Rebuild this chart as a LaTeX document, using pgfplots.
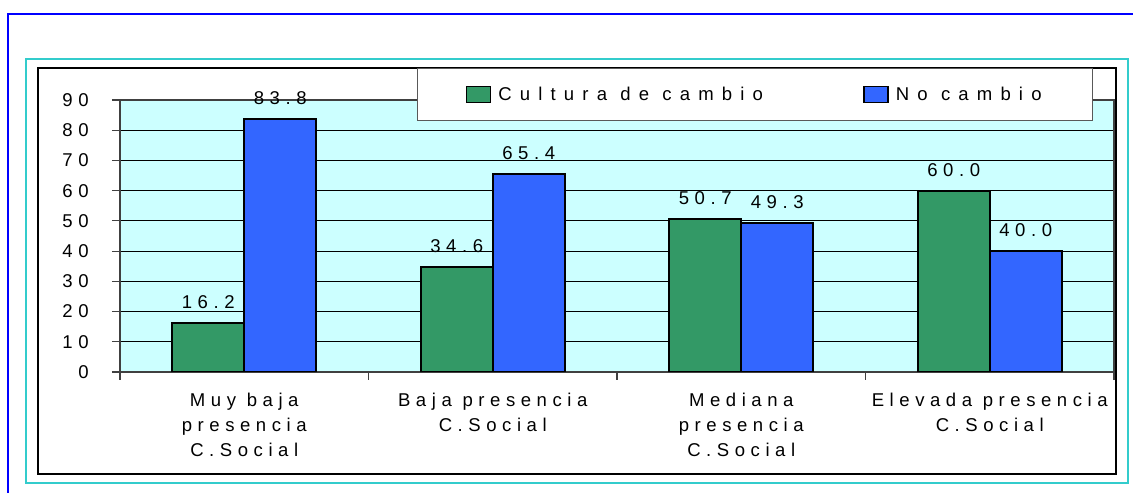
\documentclass[border=0pt]{standalone}
\usepackage{fontspec}
\setmainfont{Liberation Sans}
\newfontfamily\spaced[LetterSpace=30]{Liberation Sans}
\newfontfamily\legfont[LetterSpace=44]{Liberation Sans}
\usepackage{pgfplots}
\pgfplotsset{compat=1.18}
\definecolor{cgreen}{HTML}{339966}
\definecolor{cblue}{HTML}{3366FF}
\definecolor{cbg}{HTML}{CCFFFF}
\definecolor{cframe}{HTML}{33CCCC}
\newcommand\lbl{\spaced\fontsize{13.9pt}{18.75pt}\selectfont}
\begin{document}
\begin{tikzpicture}
\path[use as bounding box] (0,0) rectangle (849.75pt,369.75pt);
\draw[blue, line width=1.2pt] (6pt,-20pt) rectangle (900pt,359.25pt);
\draw[cframe, line width=1.5pt] (19.5pt,7.5pt) rectangle (846pt,325.5pt);
\draw[black, line width=1.6pt] (28.5pt,14.25pt) rectangle (837pt,318.75pt);
\begin{axis}[
  at={(90pt,90.75pt)}, anchor=south west,
  scale only axis, width=745.5pt, height=204pt,
  xmin=-0.5, xmax=3.5, ymin=0, ymax=90,
  ybar=0pt, bar width=54pt,
  every axis plot/.append style={draw=black, line width=1.5pt,
    legend image code/.code={\draw[##1, line width=1.2pt] (0pt,-6pt) rectangle (18pt,6pt);}},
  axis background/.style={fill=cbg},
  axis line style={draw=gray!50!black, line width=1pt},
  ymajorgrids, grid style={black, line width=0.75pt},
  ytick={0,10,...,90},
  xtick={-0.5,0.5,1.5,2.5,3.5}, xticklabels={,,,,},
  extra x ticks={0,1,2,3},
  extra x tick labels={{Muy baja\\presencia\\C.Social},{Baja presencia\\C.Social},{Mediana\\presencia\\C.Social},{Elevada presencia\\C.Social}},
  extra x tick style={major tick length=0pt},
  tick align=outside, major tick length=6pt,
  tick style={draw=gray!50!black, line width=0.8pt},
  xtick pos=bottom, ytick pos=left,
  /pgf/number format/assume math mode=true,
  ticklabel style={font=\lbl},
  xticklabel style={align=center, yshift=-12pt},
  yticklabel style={xshift=-14pt},
  nodes near coords={\pgfmathprintnumber[fixed,fixed zerofill,precision=1]{\pgfplotspointmeta}},
  every node near coord/.append style={font=\lbl, anchor=base, inner sep=0pt, yshift=11pt, text=black},
  legend style={at={(rel axis cs:0.2988,1.1176)}, anchor=north west,
    draw=gray!70!black, line width=0.75pt, fill=white,
    legend columns=2, font=\legfont\fontsize{13.9pt}{16pt}\selectfont,
    inner xsep=36pt, inner ysep=11.6pt,
    /tikz/every odd column/.append style={column sep=3.5pt},
    /tikz/every even column/.append style={column sep=73pt}},
]
\addplot[fill=cgreen] coordinates {(0,16.2) (1,34.6) (2,50.7) (3,60.0)};
\addplot[fill=cblue] coordinates {(0,83.8) (1,65.4) (2,49.3) (3,40.0)};
\legend{Cultura de cambio, No cambio}
\end{axis}
\end{tikzpicture}
\end{document}
